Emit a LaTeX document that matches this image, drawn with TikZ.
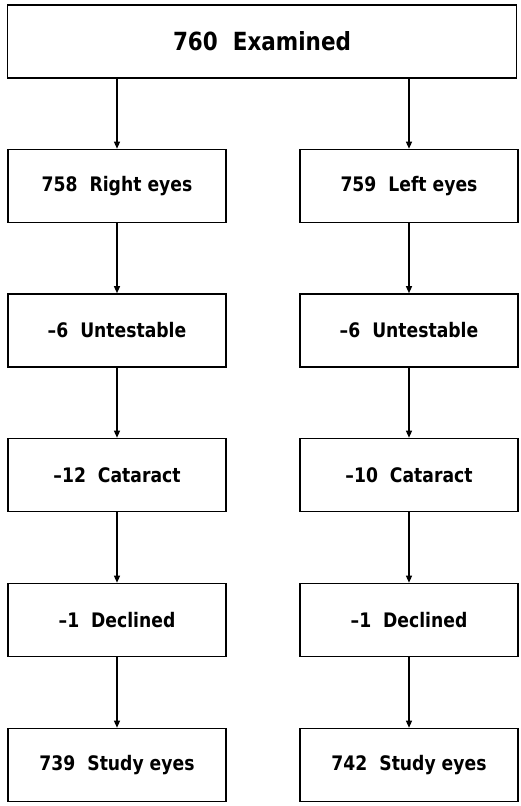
\documentclass[tikz,border=0pt]{standalone}
\usepackage{fontspec}
\setmainfont{DejaVu Sans}[FakeStretch=0.86]
\usetikzlibrary{arrows.meta}
\tikzset{box/.style={draw, line width=1.6pt, minimum width=218pt, minimum height=73pt,
    inner sep=0pt, font=\bfseries\fontsize{20}{24}\selectfont},
  flow/.style={-{Triangle[length=7pt,width=6pt]}, line width=1.2pt}}

\begin{document}
\begin{tikzpicture}[x=1pt,y=-1pt]
  \useasboundingbox (0,0) rectangle (520,806);
  \node[box, minimum width=509pt, font=\bfseries\fontsize{25}{30}\selectfont] (exam) at (262,41.5) {760~~Examined};
  % right eyes
  \node[box] (rtot) at (117,186) {758~~Right eyes};
  \node[box] (runt) at (117,330.5) {\textendash6~~Untestable};
  \node[box] (rcat) at (117,475) {\textendash12~~Cataract};
  \node[box] (rdec) at (117,620) {\textendash1~~Declined};
  \node[box] (rstu) at (117,765) {739~~Study eyes};
  % left eyes
  \node[box] (ltot) at (409,186) {759~~Left eyes};
  \node[box] (lunt) at (409,330.5) {\textendash6~~Untestable};
  \node[box] (lcat) at (409,475) {\textendash10~~Cataract};
  \node[box] (ldec) at (409,620) {\textendash1~~Declined};
  \node[box] (lstu) at (409,765) {742~~Study eyes};
  \draw[flow] (exam.south -| rtot.north) -- (rtot);
  \draw[flow] (exam.south -| ltot.north) -- (ltot);
  \draw[flow] (rtot) -- (runt);
  \draw[flow] (runt) -- (rcat);
  \draw[flow] (rcat) -- (rdec);
  \draw[flow] (rdec) -- (rstu);
  \draw[flow] (ltot) -- (lunt);
  \draw[flow] (lunt) -- (lcat);
  \draw[flow] (lcat) -- (ldec);
  \draw[flow] (ldec) -- (lstu);
\end{tikzpicture}
\end{document}
